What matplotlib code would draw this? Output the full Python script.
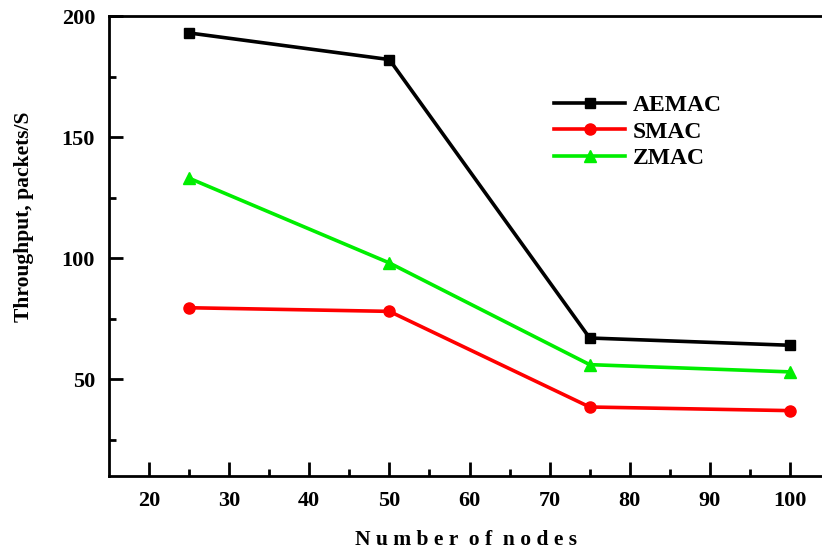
import matplotlib.pyplot as plt

# data
nodes = [25, 50, 75, 100]
aemac = [193, 182, 67, 64]
smac = [79.5, 78, 38.5, 37]
zmac = [133, 98, 56, 53]

x_ticks = [20, 30, 40, 50, 60, 70, 80, 90, 100]
y_ticks = [50, 100, 150, 200]

plt.rcParams['font.family'] = ['Liberation Serif', 'DejaVu Serif']
plt.rcParams['font.weight'] = 'bold'

fig = plt.figure(figsize=(8.22, 5.53), dpi=100)
ax = fig.add_axes([109 / 822, 77 / 553, 1 - 109 / 822, (476 - 16) / 553])

ax.plot(nodes, aemac, color='black', lw=2.6, marker='s', ms=7, label='AEMAC')
ax.plot(nodes, smac, color='#ff0000', lw=2.6, marker='o', ms=8, label='SMAC')
ax.plot(nodes, zmac, color='#00ee00', lw=2.6, marker='^', ms=9, label='ZMAC')

ax.set_xlim(15, 104)
ax.set_ylim(10, 200)
ax.set_xticks(x_ticks)
ax.set_xticks([25, 35, 45, 55, 65, 75, 85, 95], minor=True)
ax.set_yticks(y_ticks)
ax.set_yticks([25, 75, 125, 175], minor=True)
ax.tick_params(which='both', direction='in', width=2, labelsize=16)
ax.tick_params(which='major', length=10)
ax.tick_params(which='minor', length=5)
ax.tick_params(axis='x', pad=11)
ax.tick_params(axis='y', pad=10)

for side in ['left', 'bottom', 'top']:
    ax.spines[side].set_linewidth(2)
ax.spines['right'].set_visible(False)

ax.set_xlabel('N u m b e r  o f  n o d e s', fontsize=15.5, fontweight='bold')
ax.xaxis.set_label_coords(0.5, -0.118)
ax.set_ylabel('Throughput, packets/S', fontsize=15.5, fontweight='bold')
ax.yaxis.set_label_coords(-0.105, 0.563)

ax.legend(loc='upper left', bbox_to_anchor=(0.595, 0.875), frameon=False, fontsize=17,
          handlelength=3.0, handletextpad=0.3, labelspacing=0.2)

plt.savefig('out.png', dpi=100)
